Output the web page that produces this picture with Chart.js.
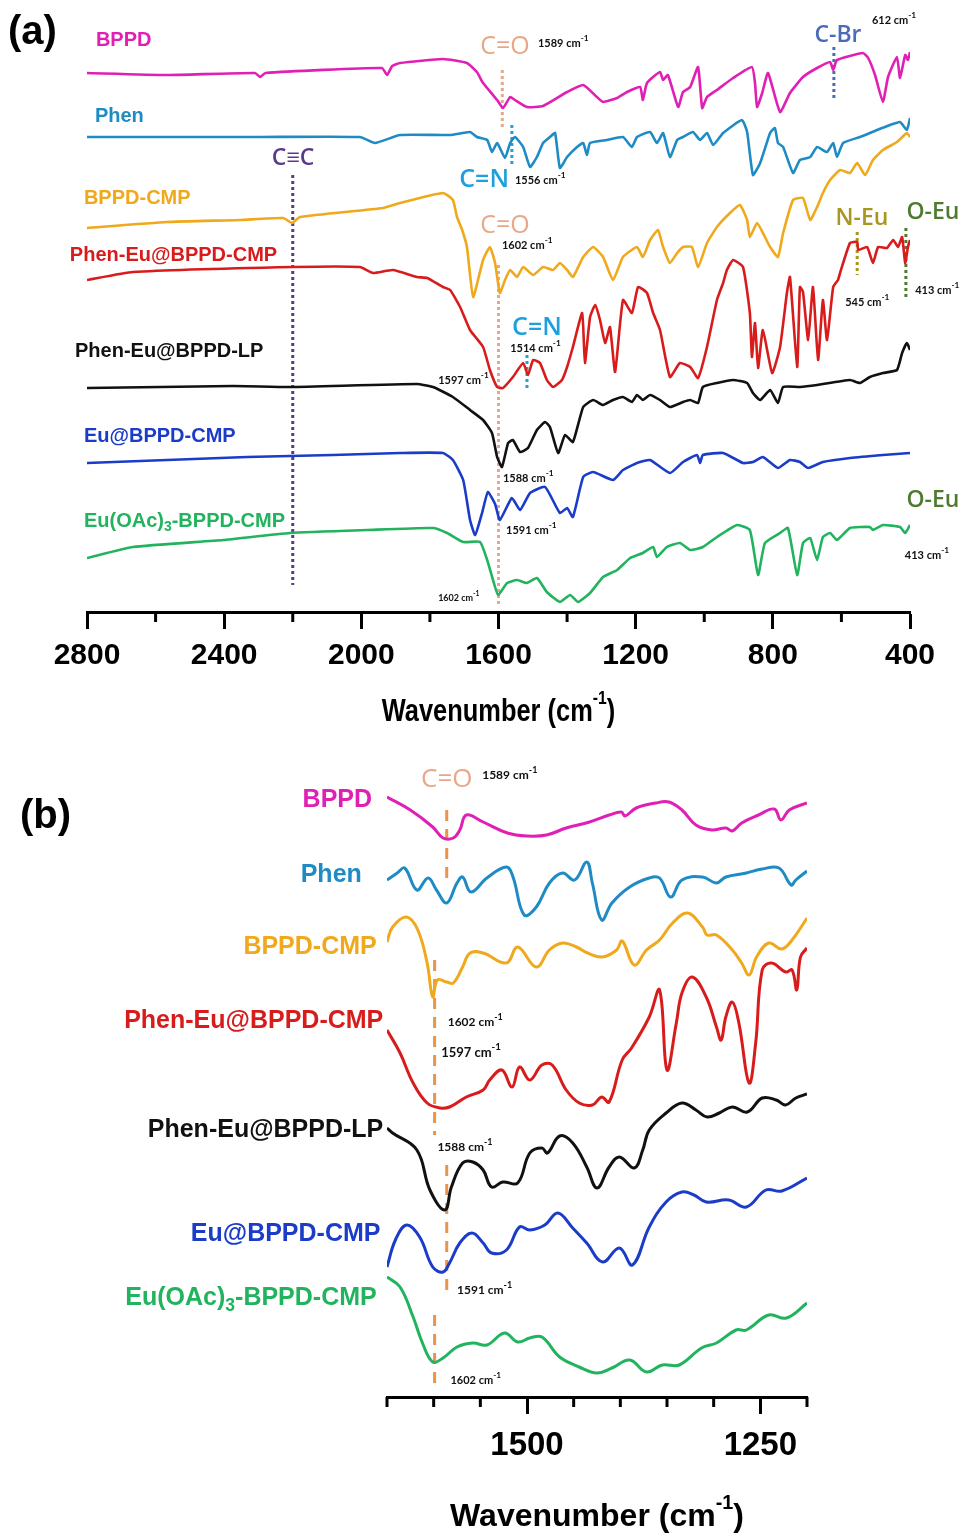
<!DOCTYPE html>
<html>
<head>
<meta charset="utf-8">
<script src="https://cdn.jsdelivr.net/npm/chart.js@4.4.1/dist/chart.umd.min.js"></script>
<style>
html, body { margin: 0; padding: 0; background: #fff; }
canvas { display: block; }
</style>
</head>
<body>
<canvas id="panelA" width="968" height="745"></canvas>
<canvas id="panelB" width="968" height="792"></canvas>
<script>
// colours of the seven samples
const MAG = '#e01fb4', PHEN = '#1f8bc4', ORNG = '#f0a81c', RED = '#d81c1c',
      BLK = '#111111', BLUE = '#1a3cc8', GRN = '#22b35e';
const PEACH = '#e8a888', PURPLE = '#5b3a8c', CYAN = '#1ea0dc', CBR = '#4a6cb8',
      OLIVE = '#a8961e', OGREEN = '#4e7a32', DASH = '#e8944a';

const SANS = "'Liberation Sans', Arial, sans-serif";
const CAL = "Lato, 'Open Sans', sans-serif";
const SEGOE = "'Open Sans', 'Noto Sans', sans-serif";

// ---------- panel (a): full range, 2800-400 cm-1 (offset transmittance, a.u.) ----------
const ticksA = [2800, 2400, 2000, 1600, 1200, 800, 400];
const minorA = [2600, 2200, 1800, 1400, 1000, 600];

const bppdWnA = [2800,2567,2310,2295,2280,1940,1925,1910,1887,1762,1692,1663,1645,1604,1587,1566,1552,1517,1470,1400,1353,1313,1295,1254,1225,1187,1179,1167,1129,1120,1106,1076,1062,1041,1018,1006,992,963,916,861,852,846,831,814,779,750,712,671,633,624,613,537,522,502,479,464,438,429,414,406,400];
const bppdA = [539,537,539,535,539,544,537,546,549,553,549,540,529,512,504,515,512,505,506,520,527,515,510,514,520,525,512,529,540,532,537,505,520,525,545,504,515,522,534,545,529,505,519,539,500,519,535,544,550,542,552,559,554,537,510,535,555,534,557,552,560];

const phenWnA = [2800,2295,2004,1960,1887,1741,1683,1663,1633,1619,1604,1581,1566,1552,1528,1508,1488,1470,1450,1435,1421,1400,1371,1353,1342,1333,1284,1237,1211,1196,1158,1138,1120,1100,1079,1062,1033,1012,992,974,945,890,875,858,837,808,794,785,770,741,721,691,671,642,624,613,595,546,496,458,429,409,400];
const phenA = [475,475,475,469,477,477,480,475,472,460,469,454,469,475,465,445,455,469,475,479,444,455,465,469,457,469,472,475,465,475,480,469,479,455,472,475,480,472,479,467,479,492,480,437,449,479,484,469,465,439,452,455,465,460,469,455,469,475,482,487,490,482,494];

const cmpWnA = [2800,2567,2354,2228,2202,2179,1937,1887,1762,1733,1721,1706,1692,1674,1645,1625,1610,1596,1581,1566,1546,1528,1499,1470,1441,1421,1400,1383,1353,1324,1295,1266,1237,1196,1179,1158,1135,1120,1100,1079,1062,1036,1018,992,963,925,896,875,867,846,823,808,785,770,741,712,691,671,654,633,604,575,554,531,508,479,438,409,400];
const cmpA = [384,390,392,394,389,395,404,409,419,412,395,382,365,315,352,365,349,319,332,342,335,345,337,345,342,349,342,335,355,365,355,332,355,365,355,372,382,365,349,359,365,365,345,369,385,399,407,392,375,389,375,365,355,379,412,414,392,405,419,432,442,439,449,437,452,462,470,479,475];

const phenEuWnA = [2800,2666,2199,2004,1966,1908,1838,1808,1762,1741,1712,1683,1645,1625,1604,1587,1558,1528,1514,1499,1479,1459,1441,1415,1400,1383,1356,1348,1333,1318,1304,1289,1275,1260,1237,1211,1193,1167,1149,1129,1100,1071,1041,1018,992,963,945,934,916,887,867,861,852,843,829,802,779,759,750,729,721,712,697,683,668,654,642,624,610,604,575,554,551,525,508,493,467,449,435,423,414,406,400];
const phenEuA = [332,340,345,345,339,342,335,334,325,322,305,282,265,242,225,224,235,249,237,252,249,232,225,232,245,265,299,249,295,307,292,269,285,240,312,299,325,319,299,282,235,249,245,234,265,312,329,342,352,345,299,255,289,244,282,239,265,319,335,245,325,320,272,325,252,312,272,325,332,339,369,370,362,365,349,365,364,372,365,375,349,365,372];

const lpWnA = [2800,2374,2208,1838,1791,1733,1683,1645,1619,1604,1590,1572,1558,1537,1514,1488,1464,1450,1426,1406,1383,1353,1324,1295,1266,1237,1211,1196,1179,1158,1129,1100,1062,1041,1018,1004,963,916,875,858,837,808,785,770,721,671,575,546,517,479,438,423,409,400];
const lpA = [224,226,225,228,225,215,202,192,179,155,145,169,172,160,164,182,190,185,159,177,170,205,212,207,212,215,210,217,212,217,212,205,210,212,209,225,229,232,229,219,212,222,209,225,225,227,232,229,235,239,242,259,269,262];

const euWnA = [2800,2333,2083,1887,1762,1733,1703,1683,1668,1648,1631,1610,1596,1561,1537,1508,1464,1421,1400,1383,1353,1324,1266,1237,1196,1158,1100,1062,1021,1012,1004,945,887,858,829,785,750,721,697,654,575,479,400];
const euA = [149,155,157,159,159,152,132,92,77,99,120,108,92,114,102,119,125,99,104,95,135,140,132,142,149,152,139,150,157,149,157,159,149,150,155,144,152,150,144,150,154,157,159];

const oacWnA = [2800,2666,2403,2208,1983,1791,1750,1703,1654,1633,1616,1601,1575,1546,1517,1488,1459,1421,1391,1368,1333,1295,1254,1216,1179,1149,1138,1109,1071,1041,1004,963,904,867,843,823,779,756,729,712,691,671,654,633,613,575,517,508,479,429,414,400];
const oacA = [54,65,72,79,82,84,79,70,70,52,32,17,29,32,29,34,20,10,17,10,19,35,42,54,59,65,55,65,69,62,65,75,87,82,37,69,79,84,37,69,74,52,75,79,72,84,85,82,87,85,79,87];

// ---------- panel (b): zoom 1650-1200 cm-1 ----------
const ticksB = [1500, 1250];
const minorB = [1650, 1600, 1550, 1450, 1400, 1350, 1300, 1200];

const bppdWnB = [1650,1625,1601,1590,1579,1572,1565,1547,1521,1500,1479,1458,1433,1412,1399,1395,1383,1362,1348,1334,1319,1302,1287,1280,1270,1252,1235,1228,1219,1200];
const bppdB = [600,587,570,559,559,567,582,575,564,561,562,569,575,582,585,581,589,594,595,587,572,567,569,566,574,582,588,577,587,594];

const phenWnB = [1650,1639,1631,1618,1606,1597,1586,1575,1569,1560,1543,1522,1515,1503,1490,1476,1462,1449,1436,1430,1420,1409,1390,1369,1358,1346,1334,1312,1297,1287,1265,1248,1230,1217,1212,1200];
const phenB = [517,524,529,507,519,507,494,514,520,505,519,530,520,482,490,514,524,517,535,514,477,494,510,519,519,500,517,520,514,520,524,528,529,512,517,526];

const cmpWnB = [1650,1644,1629,1617,1607,1601,1596,1586,1579,1569,1561,1547,1522,1510,1490,1476,1462,1447,1435,1419,1404,1398,1385,1372,1358,1344,1328,1312,1307,1297,1280,1270,1262,1254,1241,1227,1216,1200];
const cmpB = [455,470,480,467,434,400,417,415,414,430,444,444,434,450,430,447,454,450,444,440,447,456,432,447,457,474,484,470,462,462,447,434,422,440,454,448,457,479];

const phenEuWnB = [1650,1636,1622,1607,1593,1583,1565,1547,1540,1527,1516,1508,1497,1484,1473,1458,1444,1430,1420,1412,1398,1388,1369,1358,1350,1340,1334,1323,1308,1297,1292,1287,1280,1273,1262,1255,1248,1238,1223,1216,1211,1207,1200];
const phenEuB = [367,344,314,294,289,290,300,307,317,327,310,330,317,332,332,307,294,292,300,295,337,349,380,407,327,374,404,420,400,370,357,380,395,374,314,354,427,434,425,427,407,440,449];

const lpWnB = [1650,1644,1618,1604,1588,1581,1569,1558,1547,1538,1526,1510,1497,1484,1478,1465,1451,1436,1425,1412,1401,1385,1376,1369,1351,1334,1319,1307,1294,1280,1264,1248,1233,1223,1212,1200];
const lpB = [269,264,247,207,187,210,234,235,227,210,215,214,244,249,244,261,254,230,209,230,240,229,247,267,284,294,287,280,284,290,285,299,297,292,299,303];

const euWnB = [1650,1641,1629,1615,1601,1590,1583,1572,1559,1547,1538,1522,1508,1497,1481,1467,1451,1436,1419,1401,1387,1369,1351,1334,1321,1308,1284,1265,1244,1227,1200];
const euB = [130,157,172,160,130,125,134,154,164,154,144,147,170,167,172,184,169,154,135,149,132,170,195,205,202,195,197,190,207,206,219];

const oacWnB = [1650,1636,1622,1612,1601,1590,1575,1558,1543,1524,1510,1497,1484,1465,1444,1425,1409,1390,1372,1355,1337,1313,1297,1276,1265,1241,1222,1200];
const oacB = [120,110,80,54,35,39,50,54,52,64,55,59,60,40,30,24,29,37,25,32,32,49,54,67,67,82,79,94];

// ---------- text helpers ----------
function pairs(wn, v) {
    return wn.map((w, i) => ({ x: w, y: v[i] }));
}

function bold(t, size, family) {
    return [{ t, size, weight: 'bold', family: family || SANS }];
}

function unit(num, size) {
    return [
        { t: num + ' cm', size, weight: 'bold', family: CAL },
        { t: '-1', size: size * 0.75, weight: 'bold', family: CAL, dy: -size * 0.45 }
    ];
}

function oacName(size) {
    return [
        { t: 'Eu(OAc)', size, weight: 'bold', family: SANS },
        { t: '3', size: size * 0.7, weight: 'bold', family: SANS, dy: size * 0.32 },
        { t: '-BPPD-CMP', size, weight: 'bold', family: SANS }
    ];
}

function axisTitle(size) {
    return [
        { t: 'Wavenumber (cm', size, weight: 'bold', family: SANS },
        { t: '-1', size: size * 0.62, weight: 'bold', family: SANS, dy: -size * 0.42 },
        { t: ')', size, weight: 'bold', family: SANS }
    ];
}

// draws a run of text pieces; sx squeezes the run horizontally (narrow look)
function drawRich(ctx, x, y, parts, align, color, sx) {
    sx = sx || 1;
    let w = 0;
    parts.forEach(p => {
        ctx.font = `${p.weight} ${p.size}px ${p.family}`;
        p.w = ctx.measureText(p.t).width;
        w += p.w;
    });
    w *= sx;
    const start = align === 'center' ? x - w / 2 : align === 'right' ? x - w : x;
    ctx.save();
    ctx.translate(start, y);
    ctx.scale(sx, 1);
    ctx.fillStyle = color;
    ctx.textBaseline = 'middle';
    ctx.textAlign = 'left';
    let cx = 0;
    parts.forEach(p => {
        ctx.font = `${p.weight} ${p.size}px ${p.family}`;
        ctx.fillText(p.t, cx, p.dy || 0);
        cx += p.w;
    });
    ctx.restore();
}

// guide lines, labels, minor ticks and axis title, all placed through the chart scales
function makeDeco(deco) {
    return {
        id: 'deco',
        beforeDatasetsDraw(chart) {
            const ctx = chart.ctx, xs = chart.scales.x, ys = chart.scales.y;
            ctx.save();
            deco.guides.forEach(g => {
                const px = xs.getPixelForValue(g.wn);
                ctx.beginPath();
                ctx.strokeStyle = g.color;
                ctx.lineWidth = g.width;
                ctx.setLineDash(g.dash);
                ctx.moveTo(px, ys.getPixelForValue(g.from));
                ctx.lineTo(px, ys.getPixelForValue(g.to));
                ctx.stroke();
            });
            ctx.restore();
        },
        afterDraw(chart) {
            const ctx = chart.ctx, xs = chart.scales.x, ys = chart.scales.y;
            const area = chart.chartArea;
            ctx.save();
            deco.labels.forEach(l => {
                drawRich(ctx, xs.getPixelForValue(l.wn), ys.getPixelForValue(l.v), l.parts, l.align, l.color);
            });
            ctx.strokeStyle = '#000';
            ctx.lineWidth = 3;
            deco.minor.forEach(w => {
                const px = xs.getPixelForValue(w);
                ctx.beginPath();
                ctx.moveTo(px, area.bottom);
                ctx.lineTo(px, area.bottom + deco.minorLen);
                ctx.stroke();
            });
            drawRich(ctx, (area.left + area.right) / 2, area.bottom + deco.titleOffset, deco.title, 'center', '#000', deco.titleSx);
            drawRich(ctx, deco.panel.x, deco.panel.y, bold(deco.panel.t, 40), 'left', '#000');
            ctx.restore();
        }
    };
}

function buildPanel(id, series, o) {
    return new Chart(document.getElementById(id), {
        type: 'line',
        data: {
            datasets: series.map(s => ({
                data: pairs(s[0], s[1]),
                borderColor: s[2],
                borderWidth: o.lineWidth,
                pointRadius: 0,
                tension: o.tension,
                fill: false
            }))
        },
        options: {
            responsive: false,
            animation: false,
            events: [],
            devicePixelRatio: 1,
            layout: { padding: o.padding },
            plugins: { legend: { display: false }, tooltip: { enabled: false } },
            scales: {
                x: {
                    type: 'linear',
                    reverse: true,
                    min: o.xMin,
                    max: o.xMax,
                    afterFit: s => { s.height = o.axisH; },
                    afterBuildTicks: s => { s.ticks = o.ticks.map(v => ({ value: v })); },
                    ticks: {
                        autoSkip: false,
                        maxRotation: 0,
                        padding: o.tickPad,
                        color: '#000',
                        font: { family: SANS, size: o.tickSize, weight: 'bold' },
                        callback: v => String(v)
                    },
                    grid: {
                        display: true,
                        drawOnChartArea: false,
                        drawTicks: true,
                        tickLength: 17,
                        tickWidth: 3,
                        tickColor: '#000'
                    },
                    border: { display: true, color: '#000', width: 3 }
                },
                y: { display: false, min: 0, max: o.yMax }
            }
        },
        plugins: [makeDeco(o.deco)]
    });
}

const dotted = (wn, from, to, color) => ({ wn, from, to, color, width: 3, dash: [3, 3] });
const dashed = (wn, from, to) => ({ wn, from, to, color: DASH, width: 3, dash: [11, 8] });

const decoA = {
    guides: [
        dotted(1589, 542, 482, PEACH),
        dotted(622, 565, 512, CBR),
        dotted(2200, 437, 27, PURPLE),
        dotted(1561, 487, 447, CYAN),
        dotted(1600, 347, 5, PEACH),
        dotted(554, 380, 337, OLIVE),
        dotted(412, 384, 312, OGREEN),
        dotted(1517, 257, 222, CYAN)
    ],
    labels: [
        { parts: bold('BPPD', 20), wn: 2774, v: 572, align: 'left', color: MAG },
        { parts: bold('Phen', 20), wn: 2777, v: 496, align: 'left', color: PHEN },
        { parts: bold('BPPD-CMP', 20), wn: 2809, v: 414, align: 'left', color: ORNG },
        { parts: bold('Phen-Eu@BPPD-CMP', 20), wn: 2850, v: 357, align: 'left', color: RED },
        { parts: bold('Phen-Eu@BPPD-LP', 20), wn: 2835, v: 261, align: 'left', color: BLK },
        { parts: bold('Eu@BPPD-CMP', 20), wn: 2809, v: 176, align: 'left', color: BLUE },
        { parts: oacName(20), wn: 2809, v: 91, align: 'left', color: GRN },
        { parts: [{ t: 'C=O', size: 25, weight: 'normal', family: SEGOE }], wn: 1581, v: 565, align: 'center', color: PEACH },
        { parts: unit('1589', 11), wn: 1485, v: 569, align: 'left', color: BLK },
        { parts: [{ t: 'C-Br', size: 23, weight: '600', family: SEGOE }], wn: 610, v: 577, align: 'center', color: CBR },
        { parts: unit('612', 11), wn: 511, v: 592, align: 'left', color: BLK },
        { parts: [{ t: 'C≡C', size: 23, weight: '600', family: SEGOE }], wn: 2199, v: 454, align: 'center', color: PURPLE },
        { parts: [{ t: 'C=N', size: 25, weight: '600', family: SEGOE }], wn: 1642, v: 432, align: 'center', color: CYAN },
        { parts: unit('1556', 11), wn: 1552, v: 432, align: 'left', color: BLK },
        { parts: [{ t: 'C=O', size: 25, weight: 'normal', family: SEGOE }], wn: 1581, v: 386, align: 'center', color: PEACH },
        { parts: unit('1602', 11), wn: 1590, v: 367, align: 'left', color: BLK },
        { parts: [{ t: 'N-Eu', size: 23, weight: '600', family: SEGOE }], wn: 540, v: 394, align: 'center', color: OLIVE },
        { parts: [{ t: 'O-Eu', size: 23, weight: '600', family: SEGOE }], wn: 333, v: 400, align: 'center', color: OGREEN },
        { parts: unit('545', 11), wn: 589, v: 310, align: 'left', color: BLK },
        { parts: unit('413', 11), wn: 385, v: 322, align: 'left', color: BLK },
        { parts: [{ t: 'C=N', size: 25, weight: '600', family: SEGOE }], wn: 1488, v: 284, align: 'center', color: CYAN },
        { parts: unit('1514', 11), wn: 1566, v: 264, align: 'left', color: BLK },
        { parts: unit('1597', 11), wn: 1776, v: 232, align: 'left', color: BLK },
        { parts: unit('1588', 11), wn: 1587, v: 134, align: 'left', color: BLK },
        { parts: unit('1591', 11), wn: 1578, v: 82, align: 'left', color: BLK },
        { parts: [{ t: 'O-Eu', size: 23, weight: '600', family: SEGOE }], wn: 333, v: 112, align: 'center', color: OGREEN },
        { parts: unit('413', 11), wn: 415, v: 57, align: 'left', color: BLK },
        { parts: unit('1602', 9), wn: 1776, v: 14, align: 'left', color: BLK }
    ],
    minor: minorA,
    minorLen: 10,
    title: axisTitle(31),
    titleSx: 0.82,
    titleOffset: 100,
    panel: { t: '(a)', x: 8, y: 33 }
};

const decoB = {
    guides: [
        dashed(1586, 587, 517),
        dashed(1599, 437, 262),
        dashed(1586, 232, 107),
        dashed(1599, 82, 12)
    ],
    labels: [
        { parts: bold('BPPD', 25), wn: 1666, v: 597, align: 'right', color: MAG },
        { parts: bold('Phen', 25), wn: 1677, v: 522, align: 'right', color: PHEN },
        { parts: bold('BPPD-CMP', 25), wn: 1661, v: 450, align: 'right', color: ORNG },
        { parts: bold('Phen-Eu@BPPD-CMP', 25), wn: 1654, v: 376, align: 'right', color: RED },
        { parts: bold('Phen-Eu@BPPD-LP', 25), wn: 1654, v: 267, align: 'right', color: BLK },
        { parts: bold('Eu@BPPD-CMP', 25), wn: 1657, v: 163, align: 'right', color: BLUE },
        { parts: oacName(25), wn: 1661, v: 99, align: 'right', color: GRN },
        { parts: [{ t: 'C=O', size: 26, weight: 'normal', family: SEGOE }], wn: 1586, v: 617, align: 'center', color: PEACH },
        { parts: unit('1589', 12), wn: 1548, v: 622, align: 'left', color: BLK },
        { parts: unit('1602', 12), wn: 1585, v: 375, align: 'left', color: BLK },
        { parts: unit('1597', 13), wn: 1592, v: 344, align: 'left', color: BLK },
        { parts: unit('1588', 12), wn: 1596, v: 250, align: 'left', color: BLK },
        { parts: unit('1591', 12), wn: 1575, v: 107, align: 'left', color: BLK },
        { parts: unit('1602', 11), wn: 1582, v: 17, align: 'left', color: BLK }
    ],
    minor: minorB,
    minorLen: 10,
    title: axisTitle(32),
    titleSx: 1,
    titleOffset: 120,
    panel: { t: '(b)', x: 20, y: 72 }
};

document.addEventListener('DOMContentLoaded', () => {
    buildPanel('panelA', [
        [bppdWnA, bppdA, MAG],
        [phenWnA, phenA, PHEN],
        [cmpWnA, cmpA, ORNG],
        [phenEuWnA, phenEuA, RED],
        [lpWnA, lpA, BLK],
        [euWnA, euA, BLUE],
        [oacWnA, oacA, GRN]
    ], {
        xMin: 400, xMax: 2800, yMax: 597, ticks: ticksA,
        padding: { left: 87, right: 58, top: 15, bottom: 0 },
        axisH: 133, tickPad: 9, tickSize: 30,
        lineWidth: 2.6, tension: 0.15, deco: decoA
    });

    buildPanel('panelB', [
        [bppdWnB, bppdB, MAG],
        [phenWnB, phenB, PHEN],
        [cmpWnB, cmpB, ORNG],
        [phenEuWnB, phenEuB, RED],
        [lpWnB, lpB, BLK],
        [euWnB, euB, BLUE],
        [oacWnB, oacB, GRN]
    ], {
        xMin: 1200, xMax: 1650, yMax: 644, ticks: ticksB,
        padding: { left: 387, right: 161, top: 8, bottom: 0 },
        axisH: 140, tickPad: 12, tickSize: 33,
        lineWidth: 3, tension: 0.4, deco: decoB
    });
});
</script>
</body>
</html>
